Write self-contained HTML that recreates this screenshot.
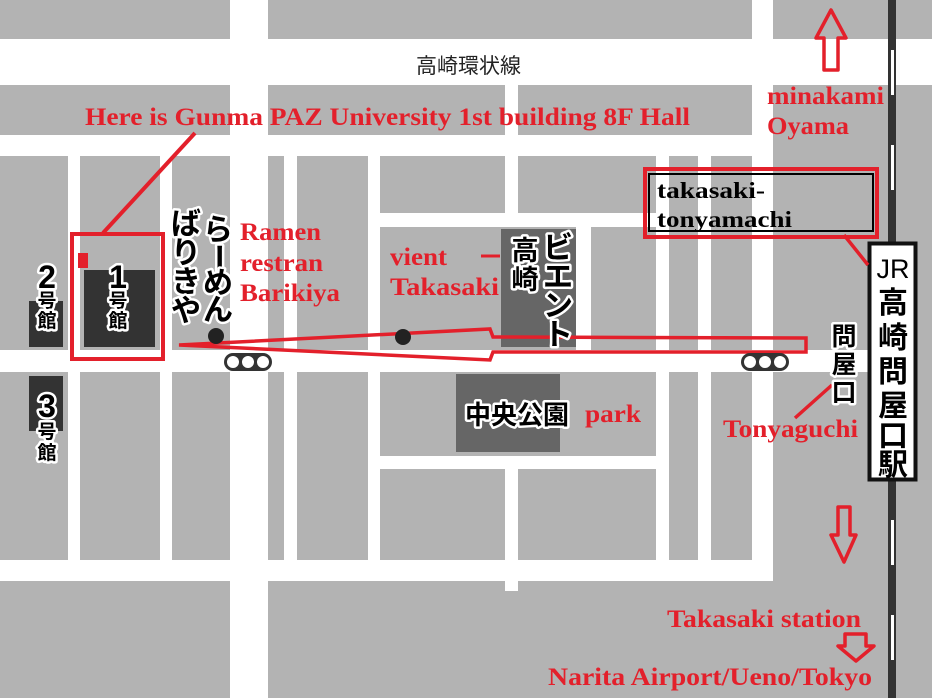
<!DOCTYPE html>
<html><head><meta charset="utf-8"><style>
html,body{margin:0;padding:0;background:#fff;}
svg{display:block;}
.r{font-family:"Liberation Serif",serif;font-weight:bold;fill:#e3202b;font-size:25px;}
.j{font-family:"Liberation Sans","Noto Sans CJK JP",sans-serif;font-weight:bold;fill:#000;stroke:#fff;stroke-width:5px;paint-order:stroke;stroke-linejoin:round;}
</style></head><body>
<svg width="932" height="698" viewBox="0 0 932 698" xmlns="http://www.w3.org/2000/svg">
<rect width="932" height="698" fill="#fff"/>
<g fill="#b3b3b3">
<rect x="0" y="0" width="230" height="39"/>
<rect x="268" y="0" width="484" height="39"/>
<rect x="773" y="0" width="159" height="39"/>
<rect x="0" y="85" width="230" height="50"/>
<rect x="268" y="85" width="237" height="50"/>
<rect x="518" y="85" width="234" height="50"/>
<rect x="773" y="85" width="159" height="613"/>
<rect x="0" y="156" width="68" height="194"/>
<rect x="80" y="156" width="80" height="194"/>
<rect x="172" y="156" width="58" height="194"/>
<rect x="268" y="156" width="16" height="194"/>
<rect x="297" y="156" width="71" height="194"/>
<rect x="380" y="156" width="125" height="57"/>
<rect x="380" y="227" width="196" height="123"/>
<rect x="518" y="156" width="138" height="57"/>
<rect x="591" y="227" width="65" height="123"/>
<rect x="669" y="156" width="29" height="194"/>
<rect x="711" y="156" width="41" height="194"/>
<rect x="0" y="372" width="68" height="188"/>
<rect x="80" y="372" width="80" height="188"/>
<rect x="172" y="372" width="58" height="188"/>
<rect x="268" y="372" width="16" height="188"/>
<rect x="297" y="372" width="71" height="188"/>
<rect x="380" y="372" width="276" height="84"/>
<rect x="380" y="469" width="125" height="91"/>
<rect x="518" y="469" width="138" height="91"/>
<rect x="669" y="372" width="29" height="188"/>
<rect x="711" y="372" width="41" height="188"/>
<rect x="0" y="581" width="230" height="117"/>
<rect x="268" y="581" width="237" height="117"/>
<rect x="518" y="581" width="255" height="117"/>
<rect x="505" y="591" width="13" height="107"/>
</g>
<rect x="773" y="350" width="95" height="22" fill="#fff"/>
<rect x="29" y="301" width="34" height="46" fill="#333"/>
<rect x="84" y="270" width="71" height="77" fill="#333"/>
<rect x="29" y="376" width="34" height="55" fill="#333"/>
<rect x="501" y="229" width="75" height="118" fill="#666"/>
<rect x="456" y="374" width="104" height="78" fill="#666"/>
<rect x="888" y="0" width="8" height="698" fill="#333"/>
<g fill="#fff"><rect x="891" y="50" width="3" height="45"/><rect x="891" y="145" width="3" height="45"/><rect x="891" y="520" width="3" height="45"/><rect x="891" y="615" width="3" height="45"/></g>
<rect x="869.5" y="243.5" width="46" height="236" fill="#fff" stroke="#111" stroke-width="4"/>
<g class="j" style="stroke:none" font-size="30" text-anchor="middle">
<text x="893" y="278" font-size="27" font-weight="normal">JR</text>
<text x="893" y="313">高</text>
<text x="893" y="348">崎</text>
<text x="893" y="382">問</text>
<text x="893" y="416">屋</text>
<text x="893" y="446">口</text>
<text x="893" y="475">駅</text>
</g>
<rect x="72" y="234" width="91" height="125" fill="none" stroke="#e3202b" stroke-width="4"/>
<rect x="78" y="253" width="10" height="15" fill="#e3202b"/>
<line x1="195" y1="133" x2="103" y2="233" stroke="#e3202b" stroke-width="4"/>
<polygon points="179,345 490,329 493,337 806,338 806,352 493,352 490,360" fill="none" stroke="#e3202b" stroke-width="3.5"/>
<line x1="481" y1="256" x2="500" y2="256" stroke="#e3202b" stroke-width="3"/>
<rect x="645" y="169" width="232" height="68" fill="none" stroke="#e3202b" stroke-width="4"/>
<rect x="649" y="174" width="224" height="57" fill="none" stroke="#000" stroke-width="2"/>
<line x1="844" y1="235" x2="868" y2="265" stroke="#e3202b" stroke-width="3.5"/>
<line x1="795" y1="418" x2="832" y2="385" stroke="#e3202b" stroke-width="3.5"/>
<polygon points="831,10 846,38 838,38 838,70 824,70 824,38 816,38" fill="none" stroke="#e3202b" stroke-width="3.5" stroke-linejoin="round"/>
<polygon points="838,507 850,507 850,535 856,535 844,562 831,535 838,535" fill="none" stroke="#e3202b" stroke-width="3.5" stroke-linejoin="round"/>
<polygon points="845,634 866,634 866,646 874,646 856,661 838,646 845,646" fill="none" stroke="#e3202b" stroke-width="3.5" stroke-linejoin="round"/>
<circle cx="216" cy="336" r="8" fill="#222"/>
<circle cx="403" cy="337" r="8" fill="#222"/>
<rect x="224" y="353" width="48" height="18" rx="9" fill="#333"/>
<circle cx="233" cy="362" r="6" fill="#fff"/><circle cx="248" cy="362" r="6" fill="#fff"/><circle cx="263" cy="362" r="6" fill="#fff"/>
<rect x="741" y="353" width="48" height="18" rx="9" fill="#333"/>
<circle cx="750" cy="362" r="6" fill="#fff"/><circle cx="765" cy="362" r="6" fill="#fff"/><circle cx="780" cy="362" r="6" fill="#fff"/>
<text x="416" y="73" font-family="Liberation Sans,'Noto Sans CJK JP',sans-serif" font-size="21" fill="#222">高崎環状線</text>
<text class="r" x="85" y="125" textLength="605" lengthAdjust="spacingAndGlyphs">Here is Gunma PAZ University 1st building 8F Hall</text>
<text class="r" x="767" y="104" textLength="117" lengthAdjust="spacingAndGlyphs">minakami</text>
<text class="r" x="767" y="134" textLength="82" lengthAdjust="spacingAndGlyphs">Oyama</text>
<text class="r" x="240" y="240" textLength="81" lengthAdjust="spacingAndGlyphs">Ramen</text>
<text class="r" x="240" y="271" textLength="83" lengthAdjust="spacingAndGlyphs">restran</text>
<text class="r" x="240" y="301" textLength="100" lengthAdjust="spacingAndGlyphs">Barikiya</text>
<text class="r" x="390" y="265" textLength="57" lengthAdjust="spacingAndGlyphs">vient</text>
<text class="r" x="390" y="295" textLength="109" lengthAdjust="spacingAndGlyphs">Takasaki</text>
<text class="r" x="585" y="422" textLength="56" lengthAdjust="spacingAndGlyphs">park</text>
<text class="r" x="723" y="437" textLength="135" lengthAdjust="spacingAndGlyphs">Tonyaguchi</text>
<text class="r" x="667" y="627" textLength="194" lengthAdjust="spacingAndGlyphs">Takasaki station</text>
<text class="r" x="548" y="685" textLength="324" lengthAdjust="spacingAndGlyphs">Narita Airport/Ueno/Tokyo</text>
<text x="657" y="198" font-family="Liberation Serif,serif" font-weight="bold" font-size="23" fill="#000" textLength="108" lengthAdjust="spacingAndGlyphs">takasaki-</text>
<text x="657" y="227" font-family="Liberation Serif,serif" font-weight="bold" font-size="23" fill="#000" textLength="135" lengthAdjust="spacingAndGlyphs">tonyamachi</text>
<g class="j" text-anchor="middle">
<text x="47" y="288" font-size="32">2</text>
<text x="47" y="307" font-size="19">号</text>
<text x="47" y="327" font-size="19">館</text>
<text x="118" y="288" font-size="32">1</text>
<text x="118" y="307" font-size="19">号</text>
<text x="118" y="327" font-size="19">館</text>
<text x="47" y="417" font-size="32">3</text>
<text x="47" y="438" font-size="19">号</text>
<text x="47" y="459" font-size="19">館</text>
<text x="218" y="240" font-size="30">ら</text>
<text x="218" y="268" font-size="30" transform="rotate(90 218 258)">ー</text>
<text x="218" y="293" font-size="30">め</text>
<text x="218" y="320" font-size="30">ん</text>
<text x="186" y="234" font-size="30">ば</text>
<text x="186" y="263" font-size="30">り</text>
<text x="186" y="292" font-size="30">き</text>
<text x="186" y="321" font-size="30">や</text>
<text x="525" y="260" font-size="27">高</text>
<text x="525" y="289" font-size="27">崎</text>
<text x="558" y="258" font-size="30">ビ</text>
<text x="558" y="287" font-size="30">エ</text>
<text x="558" y="316" font-size="30">ン</text>
<text x="558" y="345" font-size="30">ト</text>
<text x="517" y="424" font-size="26">中央公園</text>
<text x="844" y="345" font-size="25">問</text>
<text x="844" y="373" font-size="25">屋</text>
<text x="844" y="401" font-size="25">口</text>
</g>
</svg>
</body></html>
